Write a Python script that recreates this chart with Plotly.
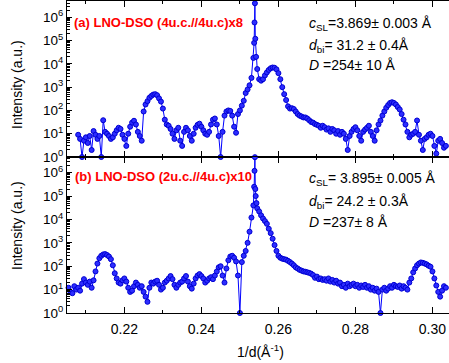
import numpy as np
import plotly.graph_objects as go

# ---------------- data ----------------
q_step = 0.0005

# panel (a): LNO-DSO (4u.c.//4u.c) x8, scan grid starts at 0.2080
q_start_a = 0.2080
intensity_a = [
    9, 6, 1, 5, 7, 4, 8, 2, 13, 9,                      # 0.2080
    6, 8, 1, 38, 12, 10, 8, 6, 7, 10,                   # 0.2130
    14, 18, 16, 9, 6, 3, 10, 20, 30, 36,                # 0.2180
    25, 12, 8, 5, 90, 180, 250, 350, 420, 480,          # 0.2230
    500, 450, 330, 240, 120, 40, 25, 22, 16, 10,        # 0.2280
    6, 14, 18, 5, 3, 12, 18, 14, 8, 5,                  # 0.2330
    10, 18, 24, 27, 20, 14, 10, 9, 12, 25,              # 0.2380
    40, 45, 25, 8, 1, 12, 60, 90, 100, 95,              # 0.2430
    60, 20, 11, 70, 100, 160, 260, 560, 800, 1200,      # 0.2480
    2500, 18000, 120000, 6000, 2200, 1900, 2200, 3200, 4300, 5500,  # 0.2530
    6500, 7000, 6800, 5800, 4000, 2200, 1000, 500, 280, 150,        # 0.2580
    120, 125, 115, 90, 70, 60, 55, 50, 50, 45,          # 0.2630
    38, 32, 30, 26, 24, 22, 18, 22, 19, 15,             # 0.2680
    17, 12, 16, 14, 10, 13, 9, 12, 10, 6,               # 0.2730
    2, 8, 12, 16, 19, 14, 8, 5, 12, 15,                 # 0.2780
    18, 22, 12, 8, 5, 14, 25, 37, 60, 90,               # 0.2830
    130, 170, 210, 225, 210, 180, 140, 110, 70, 40,     # 0.2880
    25, 12, 7, 9, 10, 12, 37, 9, 5, 2,                  # 0.2930
    6, 7, 9, 10, 8, 3, 1.4, 5, 6, 4,                    # 0.2980
    2.5, 3,                                             # 0.3030
]
spike_q_a = [0.2537, 0.2538, 0.2539, 0.2542]
spike_i_a = [80000, 600000, 4000000, 20000]

# panel (b): LNO-DSO (2u.c.//4u.c) x10, scan grid starts at 0.2055
q_start_b = 0.2055
intensity_b = [
    12, 8, 7, 14, 10, 12, 9, 18, 28, 20,                # 0.2055
    16, 22, 12, 25, 60, 130, 220, 280, 320, 330,        # 0.2105
    300, 260, 200, 110, 50, 30, 20, 18, 25, 30,         # 0.2155
    22, 12, 8, 9, 14, 20, 16, 12, 14, 8,                # 0.2205
    5, 3, 12, 20, 18, 22, 24, 16, 10, 12,               # 0.2255
    20, 24, 30, 38, 28, 16, 12, 16, 20, 22,             # 0.2305
    30, 38, 22, 14, 11, 18, 30, 40, 46, 38,             # 0.2355
    30, 20, 24, 30, 34, 28, 40, 60, 90, 100,            # 0.2405
    40, 20, 80, 180, 260, 280, 230, 160, 40, 1,         # 0.2455
    150, 280, 450, 1000, 3000, 12000, 40000, 200000, 30000, 22000,  # 0.2505
    15000, 11000, 8500, 6500, 4000, 2600, 1500, 800, 450, 280,      # 0.2555
    230, 210, 200, 190, 170, 150, 130, 110, 90, 80,     # 0.2605
    70, 65, 60, 58, 55, 52, 48, 42, 32, 36,             # 0.2655
    28, 30, 26, 28, 24, 30, 22, 26, 20, 24,             # 0.2705
    18, 20, 14, 16, 12, 18, 14, 16, 18, 14,             # 0.2755
    16, 12, 15, 13, 16, 12, 14, 10, 12, 9,              # 0.2805
    11, 8, 1, 10, 12, 9, 11, 14, 12, 16,                # 0.2855
    14, 13, 15, 11, 14, 12, 10, 20, 30, 55,             # 0.2905
    80, 110, 130, 145, 140, 130, 120, 105, 95, 60,      # 0.2955
    30, 15, 8, 5, 9, 14, 12,                            # 0.3005
]
spike_q_b = [0.2537, 0.2538, 0.2539, 0.2541, 0.2543]
spike_i_b = [250000, 1200000, 4600000, 100000, 50000]

x_tick_vals = [0.22, 0.24, 0.26, 0.28, 0.30]
x_tick_text = ["0.22", "0.24", "0.26", "0.28", "0.30"]
x_minor_vals = [0.21, 0.23, 0.25, 0.27, 0.29]
y_tick_vals = [1, 10, 100, 1000, 1e4, 1e5, 1e6]
y_tick_text = ["10<sup>%d</sup>" % i for i in range(7)]
y_minor_vals = [m * 10 ** d for d in range(7) for m in range(2, 10)]


def build(start, vals, sq, si):
    q = start + q_step * np.arange(len(vals))
    q = np.concatenate([q, np.array(sq)])
    i = np.concatenate([np.array(vals, dtype=float), np.array(si, dtype=float)])
    order = np.argsort(q)
    return q[order], i[order]


qa, ia = build(q_start_a, intensity_a, spike_q_a, spike_i_a)
qb, ib = build(q_start_b, intensity_b, spike_q_b, spike_i_b)

FONT = "Liberation Sans, Arial, sans-serif"
BLUE = "rgb(0,0,255)"
marker = dict(symbol="circle", size=5, color="rgb(45,45,255)",
              line=dict(color="rgb(0,0,210)", width=1))

fig = go.Figure()
fig.add_trace(go.Scatter(x=qa, y=ia, mode="lines+markers", xaxis="x", yaxis="y",
                         line=dict(color=BLUE, width=1), marker=marker,
                         cliponaxis=False, showlegend=False))
fig.add_trace(go.Scatter(x=qb, y=ib, mode="lines+markers", xaxis="x2", yaxis="y2",
                         line=dict(color=BLUE, width=1), marker=marker,
                         cliponaxis=False, showlegend=False))

xcommon = dict(range=[0.2051, 0.3043], showline=True, linecolor="black", linewidth=1,
               mirror="ticks", ticks="inside", ticklen=6, tickcolor="black",
               tickvals=x_tick_vals, ticktext=x_tick_text, showgrid=False, zeroline=False,
               minor=dict(tickvals=x_minor_vals, ticks="inside", ticklen=3, tickcolor="black"),
               tickfont=dict(family=FONT, size=14, color="black"))
ycommon = dict(type="log", showline=True, linecolor="black", linewidth=1, mirror=False,
               ticks="inside", ticklen=5, tickcolor="black", tickvals=y_tick_vals,
               ticktext=y_tick_text, showgrid=False, zeroline=False,
               minor=dict(tickvals=y_minor_vals, ticks="inside", ticklen=2.5, tickcolor="black"),
               tickfont=dict(family=FONT, size=13.5, color="black"))

fig.update_layout(
    width=449, height=363,
    margin=dict(l=67, r=0, t=1, b=50),
    paper_bgcolor="white", plot_bgcolor="white",
    xaxis=dict(xcommon, anchor="y", domain=[0, 1], showticklabels=False),
    yaxis=dict(ycommon, anchor="x", domain=[0.5, 1], range=[0, 6.7]),
    xaxis2=dict(xcommon, anchor="y2", domain=[0, 1], matches="x", ticklabelstandoff=3),
    yaxis2=dict(ycommon, anchor="x2", domain=[0, 0.5], range=[0, 6.67]),
    font=dict(family=FONT, color="black"),
)

W, H0, PH = 382.0, 313.0, 312.0


def px(xp):
    return (xp - 67) / W


def py(yp):
    return (H0 - yp) / PH


ann = []
red = dict(family=FONT, size=13, color="rgb(255,0,0)")
blk = dict(family=FONT, size=14, color="black")
ann.append(dict(text="<b>(a) LNO-DSO (4u.c.//4u.c)x8</b>", x=px(72), y=py(23), font=red,
                xanchor="left", yanchor="middle"))
ann.append(dict(text="<b>(b) LNO-DSO (2u.c.//4u.c)x10</b>", x=px(73), y=py(176), font=red,
                xanchor="left", yanchor="middle"))
lines_a = ["<i>c</i><sub>SL</sub>=3.869± 0.003 Å", "<i>d</i><sub>bi</sub>= 31.2 ± 0.4Å",
           "<i>D</i> =254± 10 Å"]
lines_b = ["<i>c</i><sub>SL</sub>= 3.895± 0.005 Å", "<i>d</i><sub>bi</sub>= 24.2 ± 0.3Å",
           "<i>D</i> =237± 8 Å"]
for t, yy in zip(lines_a, [24, 46, 65]):
    ann.append(dict(text=t, x=px(307), y=py(yy), font=blk, xanchor="left", yanchor="middle"))
for t, yy in zip(lines_b, [179, 202, 222]):
    ann.append(dict(text=t, x=px(307), y=py(yy), font=blk, xanchor="left", yanchor="middle"))
ann.append(dict(text="Intensity (a.u.)", textangle=-90, x=px(17), y=py(85), font=blk,
                xanchor="center", yanchor="middle"))
ann.append(dict(text="Intensity (a.u.)", textangle=-90, x=px(17), y=py(226), font=blk,
                xanchor="center", yanchor="middle"))
ann.append(dict(text="1/d(Å<sup>-1</sup>)", x=px(260), y=py(351), font=blk,
                xanchor="center", yanchor="middle"))
for a in ann:
    a.update(xref="paper", yref="paper", showarrow=False)
fig.update_layout(annotations=ann)

fig.write_html("out.html")
